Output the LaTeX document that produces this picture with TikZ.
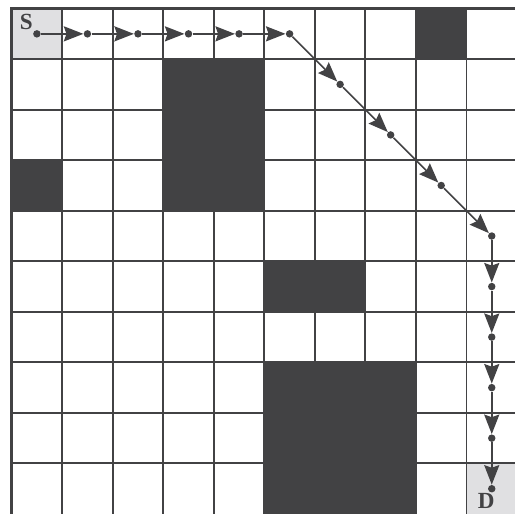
\documentclass[tikz,border=0pt]{standalone}
\usepackage{tikz}
\usepackage{fontspec}
\setmainfont{Liberation Serif}
\usetikzlibrary{arrows.meta,positioning}
\definecolor{cellgray}{HTML}{424244}
\definecolor{endgray}{HTML}{E0E0E2}
\tikzset{
	gridline/.style={draw=cellgray, line width=1.1pt},
	gridframe/.style={draw=cellgray, line width=1.8pt},
	blockcell/.style={fill=cellgray},
	endcell/.style={fill=endgray},
	pathdot/.style={circle, fill=cellgray, inner sep=0pt, minimum size=4.2pt},
	patharr/.style={-{Stealth[length=11pt, width=8.5pt, inset=1.5pt]}, draw=cellgray, line width=0.85pt},
	endlabel/.style={font=\fontsize{13}{15}\selectfont\bfseries, text=cellgray, inner sep=0pt}
}

\begin{document}
\begin{tikzpicture}
	\useasboundingbox (-0.23,0.17) rectangle (9.96,-10.02);
	% start and destination cells
	\fill[endcell] (0,0) rectangle (1,-1);
	\fill[endcell] (9,-9) rectangle (10,-10);
	% obstacles
	\fill[blockcell] (8,0) rectangle (9,-1);
	\fill[blockcell] (3,-1) rectangle (5,-4);
	\fill[blockcell] (0,-3) rectangle (1,-4);
	\fill[blockcell] (5,-5) rectangle (7,-6);
	\fill[blockcell] (5,-7) rectangle (8,-10);
	% grid
	\foreach \i in {1,...,9} {
		\draw[gridline] (\i,0) -- (\i,-10);
		\draw[gridline] (0,-\i) -- (10,-\i);
	}
	\draw[gridframe] (0,-10) -- (0,0) -- (10,0);
	% route
	\foreach \n/\c/\r in {0/0/0, 1/1/0, 2/2/0, 3/3/0, 4/4/0, 5/5/0, 6/6/1, 7/7/2,
		8/8/3, 9/9/4, 10/9/5, 11/9/6, 12/9/7, 13/9/8, 14/9/9}
		\node[pathdot] (p\n) at ({\c+0.5},{-\r-0.5}) {};
	\foreach \a [count=\b from 1] in {0,...,13}
		\draw[patharr] (p\a) -- (p\b);
	\node[endlabel, above left=0.4pt and 0.5pt of p0] (s) {S};
	\node[endlabel, below left=0.9pt and -3.4pt of p14] (d) {D};
\end{tikzpicture}
\end{document}
